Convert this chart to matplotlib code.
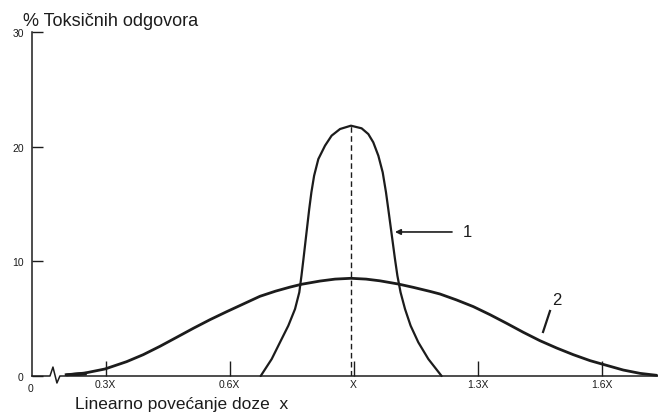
import matplotlib
matplotlib.use("Agg")
import matplotlib.pyplot as plt

plt.rcParams['font.family'] = ['Liberation Sans', 'DejaVu Sans']

# x positions are in tick-step units (tick k at position k)
x_tick_pos = [1, 2, 3, 4, 5]
x_tick_labels = ["0.3X", "0.6X", "X", "1.3X", "1.6X"]
y_tick_vals = [0, 10, 20, 30]
y_tick_labels = ["0", "10", "20", "30"]

# Curve 1 (narrow distribution)
c1_x = [2.250, 2.339, 2.406, 2.473, 2.527, 2.5615, 2.579, 2.595, 2.6105, 2.626,
        2.6415, 2.659, 2.681, 2.715, 2.769, 2.822, 2.890, 2.978,
        3.064, 3.118, 3.158, 3.199, 3.234, 3.2605, 3.279, 3.297, 3.315, 3.333,
        3.3525, 3.378, 3.414, 3.459, 3.521, 3.602, 3.709]
c1_y = [0.0, 1.48, 2.94, 4.39, 5.84, 7.30, 8.75, 10.20, 11.66, 13.11,
        14.56, 16.02, 17.47, 18.92, 20.09, 20.96, 21.54, 21.83,
        21.60, 21.10, 20.38, 19.21, 17.76, 16.02, 14.56, 13.11, 11.66, 10.20,
        8.75, 7.30, 5.84, 4.39, 2.94, 1.48, 0.0]

# Curve 2 (wide distribution)
c2_x = [0.685, 0.833, 0.994, 1.169, 1.303, 1.438, 1.572, 1.707, 1.841, 1.976,
        2.110, 2.244, 2.370, 2.486, 2.580, 2.728, 2.850, 2.978, 3.100, 3.212,
        3.360, 3.481, 3.615, 3.696, 3.830, 3.965, 4.099, 4.234, 4.368, 4.502,
        4.637, 4.771, 4.906, 5.000, 5.174, 5.309, 5.443]
c2_y = [0.09, 0.26, 0.61, 1.25, 1.86, 2.59, 3.37, 4.16, 4.91, 5.61,
        6.28, 6.95, 7.40, 7.75, 8.00, 8.28, 8.45, 8.52, 8.45, 8.30,
        8.02, 7.73, 7.38, 7.15, 6.63, 6.05, 5.35, 4.59, 3.81, 3.08,
        2.44, 1.86, 1.34, 1.05, 0.52, 0.23, 0.06]

peak_x = 2.978
peak_y = 21.8

# axis break (zigzag) decoration
break_x = [0.406, 0.551, 0.575, 0.607, 0.631, 5.454]
break_y = [0.0, 0.0, 0.78, -0.61, 0.0, 0.0]

ink = '#1c1c1c'

fig = plt.figure(figsize=(6.58, 4.14), dpi=100)
ax = fig.add_axes([32/658, 1-377/414, 1-32/658, (377-33)/414])
ax.set_xlim(0.406, 5.454)
ax.set_ylim(0, 30)

for s in ['top', 'right', 'bottom']:
    ax.spines[s].set_visible(False)
ax.spines['left'].set_color(ink)
ax.spines['left'].set_linewidth(1.1)

ax.plot(break_x, break_y, color=ink, lw=1.1, clip_on=False)

ax.plot(c1_x, c1_y, color=ink, lw=1.6, solid_joinstyle='round',
        solid_capstyle='round', clip_on=False)
ax.plot(c2_x, c2_y, color=ink, lw=2.0, solid_joinstyle='round',
        solid_capstyle='round', clip_on=False)
ax.plot([c2_x[0], c2_x[1]], [0.08, 0.2], color=ink, lw=2.6)

ax.plot([peak_x, peak_x], [0, peak_y], color=ink, lw=1.0, ls=(0, (4, 2.5)))

ax.set_xticks(x_tick_pos)
ax.set_xticklabels(x_tick_labels, fontsize=7.5)
ax.set_yticks(y_tick_vals)
ax.set_yticklabels(y_tick_labels, fontsize=7.5)
ax.tick_params(axis='x', direction='in', length=11, width=1, pad=2, colors=ink)
ax.tick_params(axis='y', direction='in', length=8, width=1, pad=6, colors=ink)
ax.text(0.39, -0.6, "0", fontsize=7.5, ha='center', va='top', color=ink)

# annotations
ax.annotate("", xy=(3.333, 12.56), xytext=(3.793, 12.56),
            arrowprops=dict(arrowstyle='-|>', color=ink, lw=1.2,
                            mutation_scale=8, shrinkA=0, shrinkB=0))
ax.text(3.882, 12.62, "1", fontsize=12, ha='left', va='center', color=ink)
ax.plot([4.527, 4.583], [3.84, 5.67], color=ink, lw=1.6)
ax.text(4.642, 6.71, "2", fontsize=12, ha='center', va='center', color=ink)

fig.text(23/658, 1-22/414, "% Toksičnih odgovora", fontsize=13,
         ha='left', va='center', color=ink)
fig.text(75/658, 1-405/414, "Linearno povećanje doze  x", fontsize=12.5,
         ha='left', va='center', color=ink)

fig.savefig("out.png", dpi=100)
